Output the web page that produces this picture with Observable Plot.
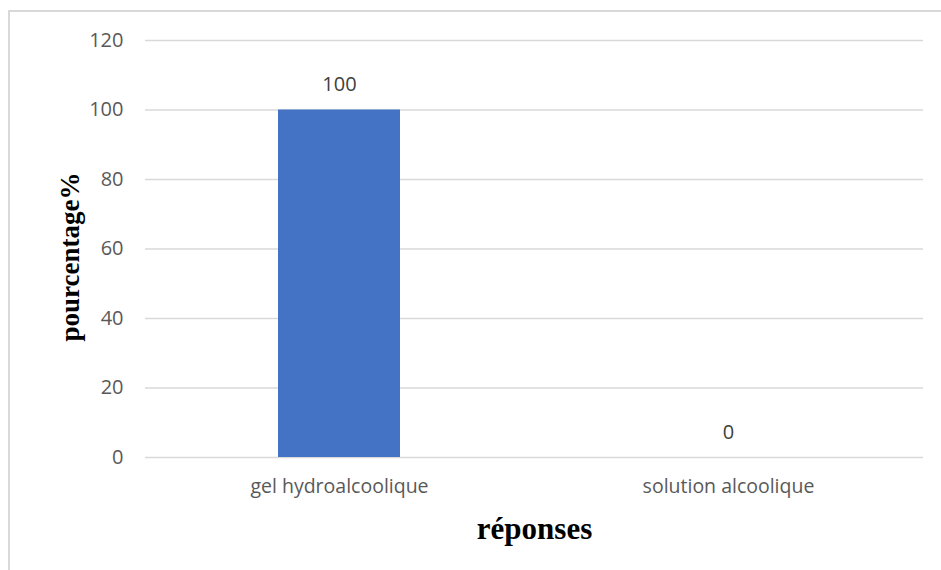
<!DOCTYPE html>
<html>
<head>
<meta charset="utf-8">
<script src="https://cdn.jsdelivr.net/npm/d3@7"></script>
<script src="https://cdn.jsdelivr.net/npm/@observablehq/plot@0.6"></script>
<style>
  html, body { margin: 0; padding: 0; background: #fff; overflow: hidden; }
  #wrap { position: relative; width: 941px; height: 570px; }
  #frame { position: absolute; left: 8px; top: 10px; width: 1000px; height: 1000px; border: 2px solid #d9d9d9; box-sizing: border-box; }
  #chart { position: absolute; left: 0; top: 0; }
  #chart svg { overflow: visible; }
</style>
</head>
<body>
<div id="wrap"><div id="frame"></div><div id="chart"></div></div>
<script>
const categories = ["gel hydroalcoolique", "solution alcoolique"];
const values = [100, 0];
const yTicks = [0, 20, 40, 60, 80, 100, 120];
const xTitle = "réponses";
const yTitle = "pourcentage%";

const data = categories.map((c, i) => ({category: c, value: values[i]}));

const chart = Plot.plot({
  width: 941,
  height: 570,
  marginLeft: 145,
  marginRight: 18,
  marginTop: 40,
  marginBottom: 113,
  style: {fontFamily: "Open Sans", background: "transparent"},
  x: {domain: categories, paddingInner: 0.686, paddingOuter: 0.343, label: null},
  y: {domain: [0, 120], ticks: yTicks, label: null},
  marks: [
    Plot.ruleY(yTicks, {stroke: "#d9d9d9", strokeWidth: 1.5}),
    Plot.barY(data, {x: "category", y: "value", fill: "#4472c4"}),
    Plot.text(data, {x: "category", y: "value", text: d => String(d.value), dy: -25, fill: "#404040", fontSize: 20}),
    Plot.axisY({ticks: yTicks, tickSize: 0, tickPadding: 22, fontSize: 20, fill: "#595959", label: null}),
    Plot.axisX({tickSize: 0, tickPadding: 22, fontSize: 19.5, fill: "#595959", label: null}),
    Plot.text([xTitle], {frameAnchor: "bottom", dy: 81, fontFamily: "Liberation Serif", fontWeight: "bold", fontSize: 31, fill: "#000"}),
    Plot.text([yTitle], {frameAnchor: "left", textAnchor: "middle", dx: -75, dy: 8, rotate: -90, fontFamily: "Liberation Serif", fontWeight: "bold", fontSize: 27, fill: "#000"})
  ]
});
document.getElementById("chart").appendChild(chart);
</script>
</body>
</html>
